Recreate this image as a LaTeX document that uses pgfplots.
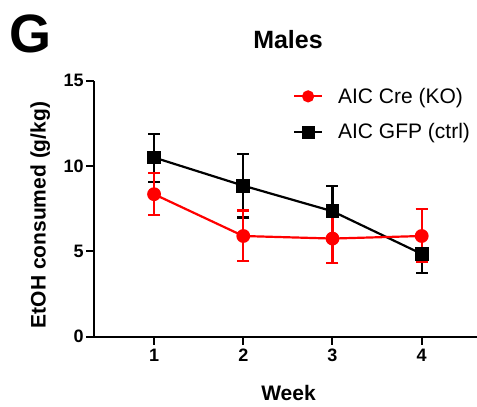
\documentclass[border=0pt]{standalone}
\usepackage{fontspec}
\setmainfont{Liberation Sans}
\usepackage{pgfplots}
\pgfplotsset{compat=1.18}
\definecolor{myred}{RGB}{255,0,0}
\begin{document}
\begin{tikzpicture}
\useasboundingbox (0,0) rectangle (477bp,407bp);
\node[anchor=base west, inner sep=0pt, font=\fontsize{54bp}{60bp}\selectfont\bfseries] at (9bp,354bp) {G};
\node[anchor=base, inner sep=0pt, font=\fontsize{25bp}{28bp}\selectfont\bfseries] at (288bp,358.5bp) {Males};
\node[anchor=base, inner sep=0pt, rotate=90, font=\fontsize{21bp}{24bp}\selectfont\bfseries] at (45.7bp,192bp) {EtOH consumed (g/kg)};
\node[anchor=base, inner sep=0pt, font=\fontsize{21bp}{24bp}\selectfont\bfseries] at (288.5bp,6.3bp) {Week};
\begin{axis}[
  at={(94.3bp,70.3bp)}, anchor=south west,
  scale only axis, width=382.7bp, height=256bp,
  xmin=0.33, xmax=4.62, ymin=0, ymax=15,
  axis x line*=bottom, axis y line*=left,
  axis line style={-, line width=2bp, black},
  xtick={1,2,3,4}, ytick={0,5,10,15},
  tick align=outside, major tick length=8bp,
  tick style={line width=2bp, black},
  /pgf/number format/assume math mode=true,
  ticklabel style={font=\fontsize{18bp}{20bp}\selectfont\bfseries, inner sep=0pt},
  xticklabel style={yshift=-4bp},
  yticklabel style={xshift=-2.5bp},
  clip=false,
  legend style={draw=none, fill=none, at={(axis description cs:0.511,0.98)}, anchor=north west,
    font=\fontsize{21bp}{24bp}\selectfont, nodes={inner sep=0pt},
    row sep=19bp, /tikz/every odd column/.append style={column sep=15bp}},
  legend cell align=left,
  legend image code/.code={\draw[mark repeat=2, mark phase=2] plot coordinates {(0bp,0bp) (14bp,0bp) (28bp,0bp)};},
]
\addlegendimage{myred, line width=2.1bp, mark=*, mark size=5bp, mark options={solid}}
\addlegendentry{AIC Cre (KO)}
\addlegendimage{black, line width=2.1bp, mark=square*, mark size=5.5bp, mark options={solid}}
\addlegendentry{AIC GFP (ctrl)}
\addplot[black, line width=2.2bp, mark=square*, mark size=5.8bp, forget plot,
  error bars/.cd, y dir=both, y explicit,
  error bar style={line width=2.2bp, black},
  error mark options={line width=2.2bp, mark size=6bp, rotate=90, black}]
  coordinates {
  (1,10.5) += (0,1.38) -= (0,1.45)
  (2,8.85) += (0,1.87) -= (0,1.87)
  (3,7.35) += (0,1.5) -= (0,1.5)
  (4,4.85) += (0,1.1) -= (0,1.12)
  };
\addplot[myred, line width=2.2bp, mark=*, mark size=5.8bp, forget plot,
  error bars/.cd, y dir=both, y explicit,
  error bar style={line width=2.2bp, myred},
  error mark options={line width=2.2bp, mark size=6bp, rotate=90, myred}]
  coordinates {
  (1,8.35) += (0,1.25) -= (0,1.2)
  (2,5.9) += (0,1.5) -= (0,1.45)
  (3,5.75) += (0,1.4) -= (0,1.45)
  (4,5.9) += (0,1.6) -= (0,1.5)
  };
\end{axis}
\end{tikzpicture}
\end{document}
